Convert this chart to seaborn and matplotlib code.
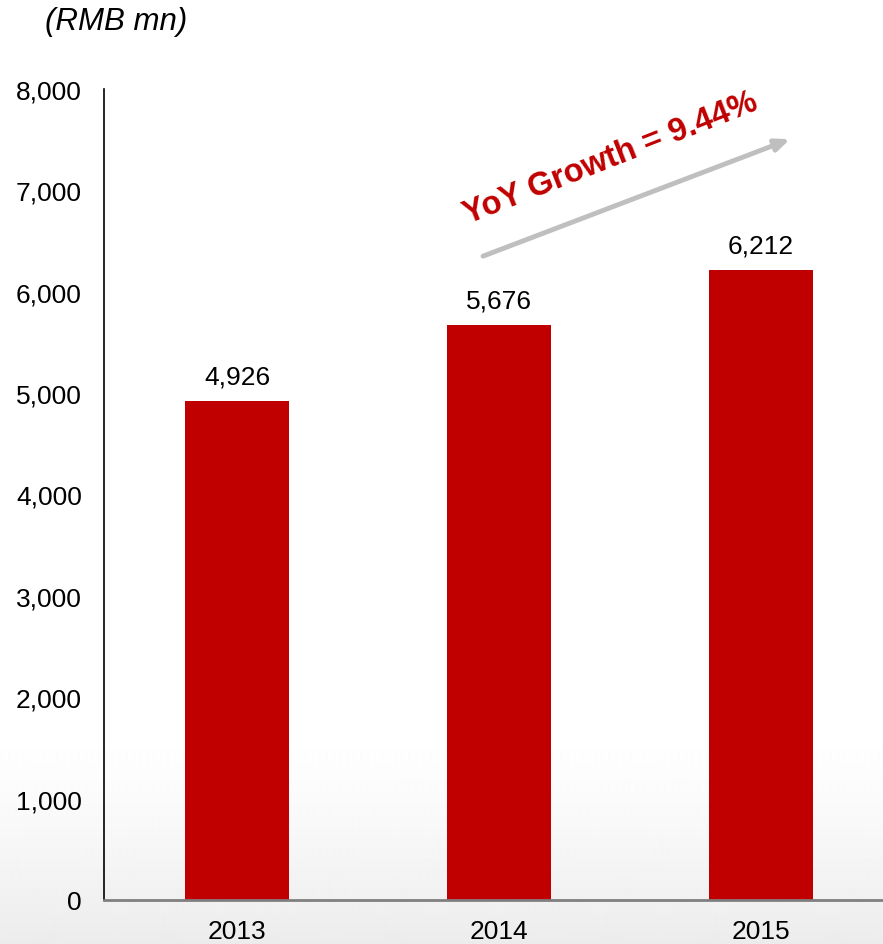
import numpy as np
import pandas as pd
import matplotlib
matplotlib.use("Agg")
import matplotlib.pyplot as plt
import seaborn as sns

# Revenue by year (RMB mn)
years = ["2013", "2014", "2015"]
revenue = [4926, 5676, 6212]
y_ticks = [0, 1000, 2000, 3000, 4000, 5000, 6000, 7000, 8000]
growth_label = "YoY Growth = 9.44%"
unit_label = "(RMB mn)"

BAR_RED = "#C00000"

sns.set_theme(style="white")
plt.rcParams["font.family"] = ["Liberation Sans", "DejaVu Sans"]

W, H, DPI = 883, 945, 100
fig = plt.figure(figsize=(W / DPI, H / DPI), dpi=DPI)
fig.patch.set_facecolor("white")

# Soft vertical background gradient: white at top, light grey near the bottom
bg = fig.add_axes([0, 0, 1, 1], zorder=-10)
rows = np.linspace(0, 1, H)  # 0 = top, 1 = bottom
start = 730 / H
shade = np.where(rows < start, 1.0,
                 1.0 - 0.075 * ((rows - start) / (1 - start)) ** 1.3)
grad = np.repeat(shade[:, None], 4, axis=1)
bg.imshow(grad, cmap="gray", vmin=0, vmax=1, aspect="auto",
          extent=[0, 1, 0, 1], interpolation="bilinear")
bg.set_axis_off()

# Main plot area
left, right, top, bottom = 104, 883, 90, 901
ax = fig.add_axes([left / W, (H - bottom) / H, (right - left) / W, (bottom - top) / H])
ax.patch.set_alpha(0)

df = pd.DataFrame({"year": years, "revenue": revenue})
sns.barplot(data=df, x="year", y="revenue", color=BAR_RED, saturation=1,
            width=0.4, ax=ax, edgecolor="none")

ax.set_ylim(0, 8000)
ax.set_xlim(-0.508, 2.466)
ax.set_yticks(y_ticks)
ax.set_yticklabels([f"{v:,}" for v in y_ticks])
ax.set_xlabel("")
ax.set_ylabel("")
ax.tick_params(axis="y", length=0, pad=16, labelsize=19, labelcolor="black")
ax.tick_params(axis="x", length=0, pad=14, labelsize=19, labelcolor="black")

for side in ("top", "right"):
    ax.spines[side].set_visible(False)
ax.spines["left"].set_color("black")
ax.spines["left"].set_linewidth(1.2)
ax.spines["bottom"].set_color("#7F7F7F")
ax.spines["bottom"].set_linewidth(2.0)
ax.spines["bottom"].set_clip_on(False)

# Value labels above the bars
for i, v in enumerate(revenue):
    ax.annotate(f"{v:,}", (i, v), xytext=(0, 9), textcoords="offset points",
                ha="center", va="bottom", fontsize=19, color="black")

# Growth arrow and label
ax.annotate("", xy=(2.111, 7505), xytext=(0.939, 6351),
            arrowprops=dict(arrowstyle="-|>,head_length=0.7,head_width=0.3",
                            color="#BFBFBF", lw=3.5, shrinkA=0, shrinkB=0))
ax.text(1.427, 7327, growth_label, rotation=21.5, rotation_mode="anchor",
        ha="center", va="center", fontsize=23.5, fontweight="bold", color=BAR_RED)

# Unit label
fig.text(45 / W, 1 - 22 / H, unit_label, fontsize=22.5, style="italic",
         ha="left", va="center", color="black")

fig.savefig("out.png", dpi=DPI)
